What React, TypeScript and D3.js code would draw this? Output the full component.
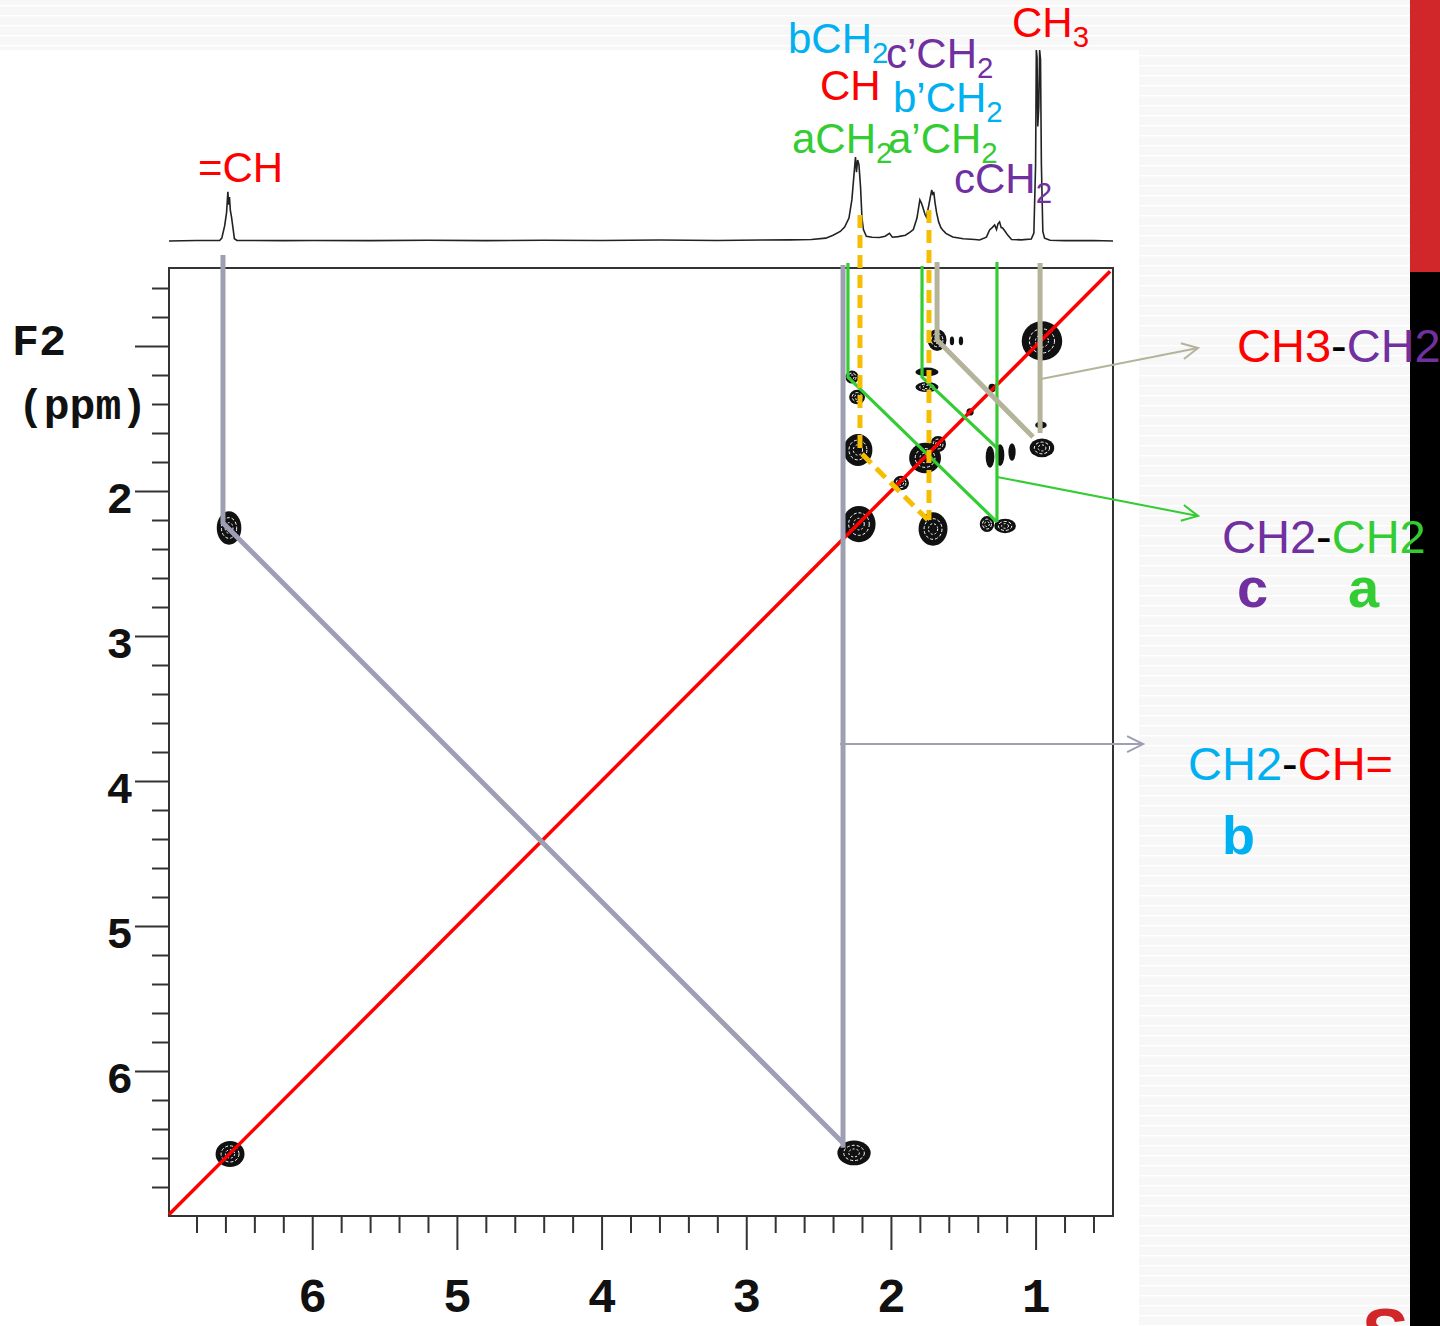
import { useEffect, useRef } from "react";
import * as d3 from "d3";

// 1D projection on top: [ppm, relative intensity]
const spectrum: [number, number][] = [
  [6.99, 0], [6.8, 0.3], [6.64, 0.3], [6.625, 1.5], [6.605, 8], [6.592, 15], [6.583, 25.7],
  [6.578, 19], [6.572, 23], [6.566, 16], [6.558, 12.6], [6.546, 5.8], [6.538, 1.2], [6.52, 0.3],
  [6.2, 0.2], [6.0, 0.3], [5.6, 0.2], [5.2, 0.4], [4.8, 0.2], [4.4, 0.4], [4.0, 0.3], [3.6, 0.5],
  [3.2, 0.3], [2.9, 0.5], [2.7, 0.6], [2.55, 0.8], [2.45, 1.5], [2.4, 3], [2.35, 5], [2.32, 7.3],
  [2.29, 12], [2.27, 21.5], [2.255, 35], [2.245, 44], [2.238, 36], [2.23, 42.4], [2.221, 40],
  [2.21, 28.3], [2.2, 12], [2.19, 6], [2.17, 2.5], [2.13, 2], [2.08, 1.8], [2.04, 2.5], [2.01, 4],
  [1.99, 2], [1.95, 2.3], [1.9, 3], [1.87, 4.5], [1.845, 6], [1.82, 12], [1.8, 21.5], [1.79, 20],
  [1.78, 17.8], [1.765, 14], [1.755, 12.6], [1.74, 18], [1.725, 24], [1.718, 26.7], [1.71, 24],
  [1.704, 25.7], [1.695, 20], [1.684, 14.7], [1.67, 10], [1.655, 7], [1.642, 5.8], [1.62, 4],
  [1.573, 2.1], [1.5, 1.2], [1.42, 0.8], [1.387, 0.5], [1.34, 2], [1.318, 5.8], [1.3, 7],
  [1.283, 8.4], [1.27, 6], [1.26, 9], [1.249, 10], [1.238, 7], [1.228, 6.8], [1.21, 5],
  [1.193, 3.1], [1.166, 0.8], [1.1, 0.6], [1.03, 1], [1.012, 4.2], [1.0, 40], [0.995, 100],
  [0.99, 96], [0.985, 60], [0.978, 70], [0.972, 100], [0.966, 95], [0.96, 40], [0.95, 5],
  [0.938, 1.5], [0.9, 0.4], [0.8, 0.2], [0.6, 0.3], [0.465, 0],
];

// COSY cross peaks: [F1 ppm, F2 ppm, width F1, width F2]
const crossPeaks: [number, number, number, number][] = [
  [0.956, 0.965, 0.28, 0.27],
  [6.568, 6.572, 0.2, 0.18],
  [6.575, 2.255, 0.17, 0.23],
  [2.255, 6.565, 0.23, 0.17],
  [2.221, 2.228, 0.23, 0.25],
  [2.228, 1.717, 0.2, 0.22],
  [2.269, 1.214, 0.09, 0.09],
  [2.234, 1.352, 0.11, 0.1],
  [1.681, 0.959, 0.13, 0.15],
  [1.578, 0.965, 0.03, 0.06],
  [1.516, 0.965, 0.03, 0.06],
  [1.751, 1.179, 0.16, 0.06],
  [1.751, 1.283, 0.16, 0.07],
  [1.764, 1.772, 0.22, 0.21],
  [1.674, 1.676, 0.11, 0.11],
  [1.93, 1.945, 0.11, 0.1],
  [1.709, 2.262, 0.2, 0.23],
  [1.336, 2.228, 0.1, 0.11],
  [1.211, 2.241, 0.15, 0.1],
  [1.315, 1.765, 0.06, 0.15],
  [1.246, 1.752, 0.06, 0.15],
  [1.163, 1.731, 0.05, 0.12],
  [0.956, 1.703, 0.17, 0.13],
  [0.963, 1.545, 0.08, 0.05],
  [1.301, 1.29, 0.05, 0.06],
  [1.453, 1.455, 0.05, 0.05],
];

// assignment lines, [F1 ppm, F2 ppm]
const diagonal: [number, number][] = [[6.99, 6.99], [0.485, 0.485]];
const grayLeft: [number, number][] = [[6.617, 0.372], [6.617, 2.221], [2.331, 6.496]];
const grayRight: [number, number][] = [[2.331, 0.441], [2.331, 6.53]];
const grayArrow: [number, number][] = [[2.352, 3.745], [0.257, 3.745]];
const greenA: [number, number][] = [[2.297, 0.427], [2.297, 1.214], [1.267, 2.214]];
const greenB: [number, number][] = [[1.785, 0.448], [1.785, 1.214], [1.267, 1.703]];
const greenC: [number, number][] = [[1.267, 0.421], [1.267, 2.214]];
const greenArrow: [number, number][] = [[1.267, 1.903], [-0.123, 2.172]];
const tanA: [number, number][] = [[1.681, 0.421], [1.681, 0.959], [1.018, 1.628]];
const tanB: [number, number][] = [[0.969, 0.427], [0.969, 1.6]];
const tanArrow: [number, number][] = [[0.962, 1.228], [-0.123, 1.014]];
const orangeA: [number, number][] = [[2.214, 0.096], [2.214, 1.731], [1.73, 2.214]];
const orangeB: [number, number][] = [[1.737, 0.062], [1.737, 2.2]];

const majorTicks = [1, 2, 3, 4, 5, 6];
const minorTicks = d3.range(3, 35).filter((i) => i % 5 !== 0).map((i) => i / 5);

const W = 1440;
const H = 1326;
const frame = { left: 169, right: 1113, top: 268, bottom: 1216 };

const x = d3.scaleLinear().domain([6.99, 0.465]).range([frame.left, frame.right]);
const y = d3.scaleLinear().domain([0.462, 7.0]).range([frame.top, frame.bottom]);
const sy = d3.scaleLinear().domain([0, 100]).range([241, 50]);

const GRAY = "#9e9fb2";
const GREEN = "#33cc33";
const TAN = "#b5b49b";
const ORANGE = "#f5be00";
const RED = "#ff0000";
const BLUE = "#00b0f0";
const PURPLE = "#7030a0";
const SANS = "'Liberation Sans', Arial, sans-serif";
const MONO = "'Liberation Mono', 'Courier New', monospace";

const ppmLine = d3
  .line<[number, number]>()
  .x((d) => x(d[0]))
  .y((d) => y(d[1]));

const specLine = d3
  .line<[number, number]>()
  .x((d) => x(d[0]))
  .y((d) => sy(d[1]));

const Label = ({ x, y, color, main, sub, size = 42 }: any) => (
  <text x={x} y={y} fill={color} fontFamily={SANS} fontSize={size}>
    {main}
    {sub && (
      <tspan fontSize={size * 0.7} dy={10}>
        {sub}
      </tspan>
    )}
  </text>
);

export default function App() {
  const leftRef = useRef<SVGGElement>(null);
  const bottomRef = useRef<SVGGElement>(null);

  useEffect(() => {
    const left = d3.select(leftRef.current);
    left.selectAll("*").remove();
    left
      .append("g")
      .call(d3.axisLeft(y).tickValues(minorTicks).tickSize(17).tickFormat(() => ""))
      .call((g) => g.select(".domain").remove());
    left
      .append("g")
      .call(
        d3
          .axisLeft(y)
          .tickValues(majorTicks)
          .tickSize(34)
          .tickPadding(2)
          .tickFormat((d) => (d === 1 ? "" : String(d)))
      )
      .call((g) => g.select(".domain").remove());
    left.selectAll("line").attr("stroke", "#333").attr("stroke-width", 2);
    left
      .selectAll("text")
      .attr("dy", "21px")
      .attr("fill", "#111")
      .style("font-family", MONO)
      .style("font-weight", "bold")
      .style("font-size", "44px");

    const bottom = d3.select(bottomRef.current);
    bottom.selectAll("*").remove();
    bottom
      .append("g")
      .call(d3.axisBottom(x).tickValues(minorTicks).tickSize(17).tickFormat(() => ""))
      .call((g) => g.select(".domain").remove());
    bottom
      .append("g")
      .call(d3.axisBottom(x).tickValues(majorTicks).tickSize(34).tickPadding(0).tickFormat((d) => String(d)))
      .call((g) => g.select(".domain").remove());
    bottom.selectAll("line").attr("stroke", "#333").attr("stroke-width", 2);
    bottom
      .selectAll("text")
      .attr("y", 0)
      .attr("dy", "96px")
      .attr("fill", "#111")
      .style("font-family", MONO)
      .style("font-weight", "bold")
      .style("font-size", "48px");
  }, []);

  const stripes = d3.range(5, H, 10);

  return (
    <div style={{ position: "absolute", left: 0, top: 0 }}>
      <svg width={W} height={H} style={{ display: "block" }}>
        <defs>
          {[
            ["arrGray", GRAY],
            ["arrGreen", GREEN],
            ["arrTan", TAN],
          ].map(([id, c]) => (
            <marker
              key={id}
              id={id}
              markerUnits="userSpaceOnUse"
              viewBox="-20 -12 24 24"
              markerWidth={24}
              markerHeight={24}
              refX={0}
              refY={0}
              orient="auto"
            >
              <path d="M-16,-8 L0,0 L-16,8" fill="none" stroke={c} strokeWidth={2} />
            </marker>
          ))}
        </defs>

        {/* slide background */}
        <rect width={W} height={H} fill="#f7f7f7" />
        {stripes.map((s) => (
          <rect key={s} x={0} y={s} width={W} height={1.4} fill="#ffffff" />
        ))}
        <rect x={0} y={50} width={1139} height={H - 50} fill="#ffffff" />
        <text x={1362} y={1358} fill="#d1272b" fontFamily={SANS} fontWeight="bold" fontSize={70}>
          S
        </text>
        <rect x={1410} y={0} width={30} height={272} fill="#d1272b" />
        <rect x={1410} y={272} width={30} height={H - 272} fill="#000000" />

        {/* 1D projection */}
        <path d={specLine(spectrum) ?? ""} fill="none" stroke="#222" strokeWidth={1.6} />

        {/* frame and axes */}
        <rect
          x={frame.left}
          y={frame.top}
          width={frame.right - frame.left}
          height={frame.bottom - frame.top}
          fill="none"
          stroke="#333"
          strokeWidth={2}
        />
        <g ref={leftRef} transform={`translate(${frame.left},0)`} />
        <g ref={bottomRef} transform={`translate(0,${frame.bottom})`} />
        <text x={12} y={355} fontFamily={MONO} fontWeight="bold" fontSize={45} fill="#111">
          F2
        </text>
        <text x={18} y={419} fontFamily={MONO} fontWeight="bold" fontSize={43} fill="#111">
          (ppm)
        </text>

        {/* contour cross peaks */}
        {crossPeaks.map(([f1, f2, w1, w2], i) => {
          const rx = Math.max(Math.abs(x(w1) - x(0)) / 2, 2);
          const ry = Math.max(Math.abs(y(w2) - y(0)) / 2, 2);
          const cx = x(f1);
          const cy = y(f2);
          return (
            <g key={i}>
              <ellipse cx={cx} cy={cy} rx={rx} ry={ry} fill="#111" />
              {rx > 5 && ry > 5 && (
                <>
                  <ellipse
                    cx={cx}
                    cy={cy}
                    rx={rx * 0.62}
                    ry={ry * 0.62}
                    fill="none"
                    stroke="#fff"
                    strokeWidth={1}
                    strokeDasharray="3 2"
                  />
                  <ellipse
                    cx={cx}
                    cy={cy}
                    rx={rx * 0.32}
                    ry={ry * 0.32}
                    fill="none"
                    stroke="#fff"
                    strokeWidth={1}
                    strokeDasharray="2 2"
                  />
                </>
              )}
            </g>
          );
        })}

        {/* diagonal */}
        <path d={ppmLine(diagonal) ?? ""} stroke={RED} strokeWidth={3.5} fill="none" />

        {/* assignment lines */}
        <path d={ppmLine(grayLeft) ?? ""} stroke={GRAY} strokeWidth={5} fill="none" />
        <path d={ppmLine(grayRight) ?? ""} stroke={GRAY} strokeWidth={5} fill="none" />
        <path d={ppmLine(grayArrow) ?? ""} stroke={GRAY} strokeWidth={2} fill="none" markerEnd="url(#arrGray)" />
        <path d={ppmLine(greenA) ?? ""} stroke={GREEN} strokeWidth={3.2} fill="none" />
        <path d={ppmLine(greenB) ?? ""} stroke={GREEN} strokeWidth={3.2} fill="none" />
        <path d={ppmLine(greenC) ?? ""} stroke={GREEN} strokeWidth={3.2} fill="none" />
        <path d={ppmLine(greenArrow) ?? ""} stroke={GREEN} strokeWidth={2} fill="none" markerEnd="url(#arrGreen)" />
        <path d={ppmLine(tanA) ?? ""} stroke={TAN} strokeWidth={5} fill="none" />
        <path d={ppmLine(tanB) ?? ""} stroke={TAN} strokeWidth={5} fill="none" />
        <path d={ppmLine(tanArrow) ?? ""} stroke={TAN} strokeWidth={2} fill="none" markerEnd="url(#arrTan)" />
        <path d={ppmLine(orangeA) ?? ""} stroke={ORANGE} strokeWidth={5} strokeDasharray="13 7" fill="none" />
        <path d={ppmLine(orangeB) ?? ""} stroke={ORANGE} strokeWidth={5} strokeDasharray="13 7" fill="none" />

        {/* peak labels */}
        <Label x={198} y={182} color={RED} main="=CH" />
        <Label x={788} y={53} color={BLUE} main="bCH" sub="2" />
        <Label x={886} y={68} color={PURPLE} main="c’CH" sub="2" />
        <Label x={820} y={100} color={RED} main="CH" />
        <Label x={893} y={112} color={BLUE} main="b’CH" sub="2" />
        <Label x={792} y={153} color={GREEN} main="aCH" sub="2" />
        <Label x={888} y={153} color={GREEN} main="a’CH" sub="2" />
        <Label x={954} y={193} color={PURPLE} main="cCH" sub="2" />
        <Label x={1012} y={37} color={RED} main="CH" sub="3" />

        {/* fragment labels */}
        <text x={1237} y={362} fontFamily={SANS} fontSize={47}>
          <tspan fill={RED}>CH3</tspan>
          <tspan fill="#000">-</tspan>
          <tspan fill={PURPLE}>CH2</tspan>
        </text>
        <text x={1222} y={553} fontFamily={SANS} fontSize={47}>
          <tspan fill={PURPLE}>CH2</tspan>
          <tspan fill="#000">-</tspan>
          <tspan fill={GREEN}>CH2</tspan>
        </text>
        <text x={1237} y={607} fontFamily={SANS} fontSize={56} fontWeight="bold" fill={PURPLE}>
          c
        </text>
        <text x={1348} y={607} fontFamily={SANS} fontSize={56} fontWeight="bold" fill={GREEN}>
          a
        </text>
        <text x={1188} y={780} fontFamily={SANS} fontSize={47}>
          <tspan fill={BLUE}>CH2</tspan>
          <tspan fill="#000">-</tspan>
          <tspan fill={RED}>CH=</tspan>
        </text>
        <text x={1222} y={854} fontFamily={SANS} fontSize={54} fontWeight="bold" fill={BLUE}>
          b
        </text>
      </svg>
    </div>
  );
}
